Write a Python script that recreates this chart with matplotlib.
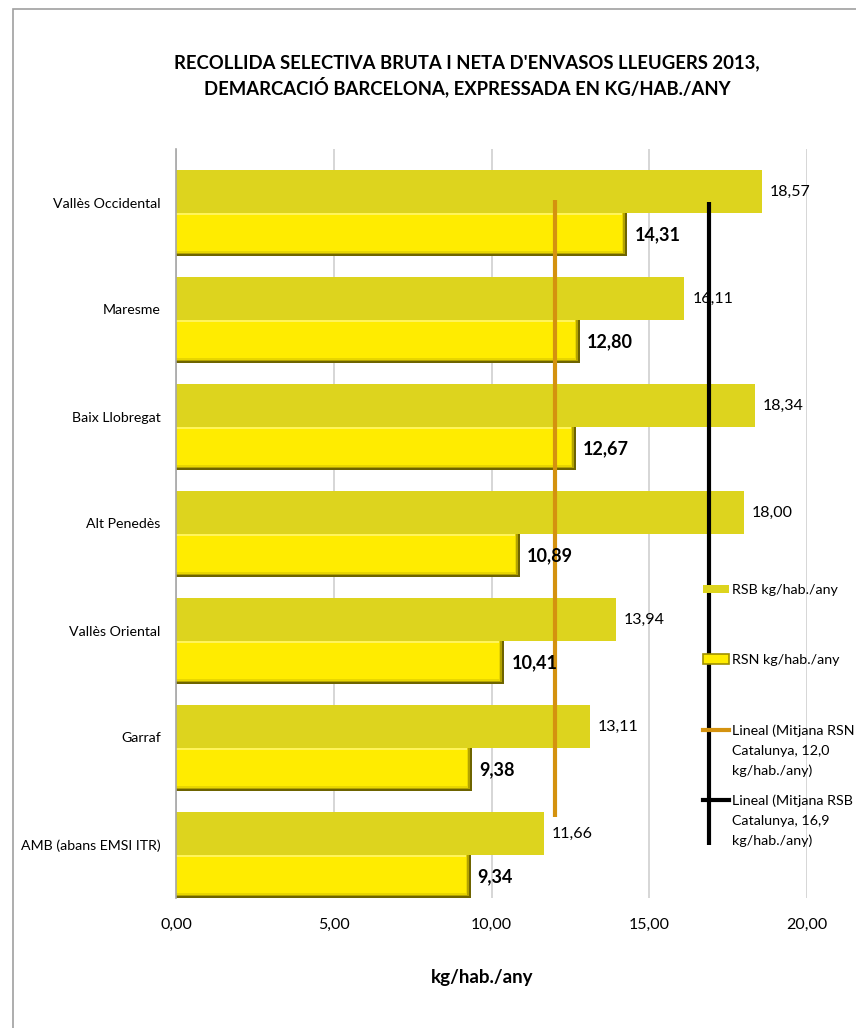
import matplotlib
matplotlib.use("Agg")
import matplotlib.pyplot as plt
import numpy as np
from matplotlib.patches import Rectangle
from matplotlib.lines import Line2D

plt.rcParams['font.family'] = ['Lato', 'DejaVu Sans']

categories = ["Vallès Occidental", "Maresme", "Baix Llobregat", "Alt Penedès",
              "Vallès Oriental", "Garraf", "AMB (abans EMSI ITR)"]
rsb = [18.57, 16.11, 18.34, 18.00, 13.94, 13.11, 11.66]
rsn = [14.31, 12.80, 12.67, 10.89, 10.41, 9.38, 9.34]
avg_rsn = 12.0
avg_rsb = 16.9
xticks = [0, 5, 10, 15, 20]
xtick_labels = ["0,00", "5,00", "10,00", "15,00", "20,00"]

title = "RECOLLIDA SELECTIVA BRUTA I NETA D'ENVASOS LLEUGERS 2013,\nDEMARCACIÓ BARCELONA, EXPRESSADA EN KG/HAB./ANY"
xlabel = "kg/hab./any"
leg_labels = [["RSB kg/hab./any"], ["RSN kg/hab./any"],
              ["Lineal (Mitjana RSN", "Catalunya, 12,0", "kg/hab./any)"],
              ["Lineal (Mitjana RSB", "Catalunya, 16,9", "kg/hab./any)"]]

W, H = 856, 1028
fig = plt.figure(figsize=(W / 100, H / 100), dpi=100)
ax = fig.add_axes([176 / W, 1 - 898 / H, 631 / W, 749 / H])

n = len(categories)
pos = np.arange(n)
bh = 0.40
rsb_c = pos + 0.397
rsn_c = pos + 0.797

C_RSB = "#DDD41E"
C_RSN = "#FFEC00"

ax.barh(rsb_c, rsb, height=bh, color=C_RSB, zorder=2)

# RSN bars with bevel effect
px_x = 20 / 631.0  # data units per pixel (x)
px_y = 7 / 749.0   # data units per pixel (y)
rsn_arr = np.array(rsn)
ax.barh(rsn_c, rsn_arr, height=bh, color="#6E6400", zorder=2)
ax.barh(rsn_c - 1 * px_y, rsn_arr - 2 * px_x, height=bh - 2 * px_y, color="#B3A300", zorder=2.1)
ax.barh(rsn_c - 1.5 * px_y, rsn_arr - 4 * px_x, height=bh - 3 * px_y, color="#E8D600", zorder=2.2)
ax.barh(rsn_c - 2 * px_y, rsn_arr - 5 * px_x, height=bh - 5 * px_y, color=C_RSN, zorder=2.3)
ax.barh(rsn_c - bh / 2 + 1.5 * px_y, rsn_arr - 5 * px_x, height=2 * px_y, color="#FFF45A", zorder=2.4)

# average lines
ax.plot([avg_rsn, avg_rsn], [0.477, 6.243], color="#D4920F", lw=3, zorder=3, solid_capstyle='butt')
ax.plot([avg_rsb, avg_rsb], [0.495, 6.50], color="black", lw=3, zorder=3, solid_capstyle='butt')

# value labels
for c, v in zip(rsb_c, rsb):
    ax.text(v + 8 * px_x, c, f"{v:.2f}".replace(".", ","), va="center", ha="left",
            fontsize=11.5, color="black", zorder=4)
for c, v in zip(rsn_c, rsn):
    ax.text(v + 7 * px_x, c, f"{v:.2f}".replace(".", ","), va="center", ha="left",
            fontsize=13, fontweight="bold", color="black", zorder=4)

ax.set_xlim(0, 20)
ax.set_ylim(n, 0)
ax.set_xticks(xticks)
ax.set_xticklabels(xtick_labels, fontsize=11.5)
ax.set_yticks(pos + 0.5)
ax.set_yticklabels(categories, fontsize=10.2)
ax.tick_params(axis='both', length=0)
ax.tick_params(axis='x', pad=14)
ax.tick_params(axis='y', pad=11)
ax.xaxis.grid(True, color="#CFCFCF", lw=1.2, zorder=0)
ax.set_axisbelow(True)
for s in ["top", "right", "bottom"]:
    ax.spines[s].set_visible(False)
ax.spines["left"].set_color("#A6A6A6")
ax.spines["left"].set_linewidth(1.2)
ax.spines["left"].set_zorder(2.5)

ax.set_xlabel(xlabel, fontsize=13.5, fontweight="bold")
ax.xaxis.set_label_coords((482 - 176) / 631, -(978 - 898) / 749)
ax.xaxis.label.set_va("center")

fig.text(467 / W, 1 - 76 / H, title, ha="center", va="center", fontsize=13.3,
         fontweight="bold", linespacing=1.3)

# chart border
fig.add_artist(Rectangle((13 / W, -0.1), 2, 1.1 - 9 / H, transform=fig.transFigure,
                         fill=False, edgecolor="#A0A0A0", lw=1.2))

# manual legend
hx0, hx1, tx = 703 / W, 729 / W, 732 / W
ys = [589, 659, 730, 800]

def fy(p):
    return 1 - p / H

fig.add_artist(Rectangle((hx0, fy(593)), hx1 - hx0, 8 / H, transform=fig.transFigure,
                         facecolor=C_RSB, edgecolor="none"))
fig.add_artist(Rectangle((hx0, fy(664)), hx1 - hx0, 10 / H, transform=fig.transFigure,
                         facecolor=C_RSN, edgecolor="#A09000", lw=1.2))
fig.add_artist(Line2D([hx0, hx1], [fy(730), fy(730)], transform=fig.transFigure,
                      color="#D4920F", lw=3))
fig.add_artist(Line2D([hx0, hx1], [fy(800), fy(800)], transform=fig.transFigure,
                      color="black", lw=3))
for y, lines in zip(ys, leg_labels):
    for k, line in enumerate(lines):
        fig.text(tx, fy(y + 20 * k), line, ha="left", va="center_baseline", fontsize=10.3)

fig.savefig("out.png", dpi=100)
